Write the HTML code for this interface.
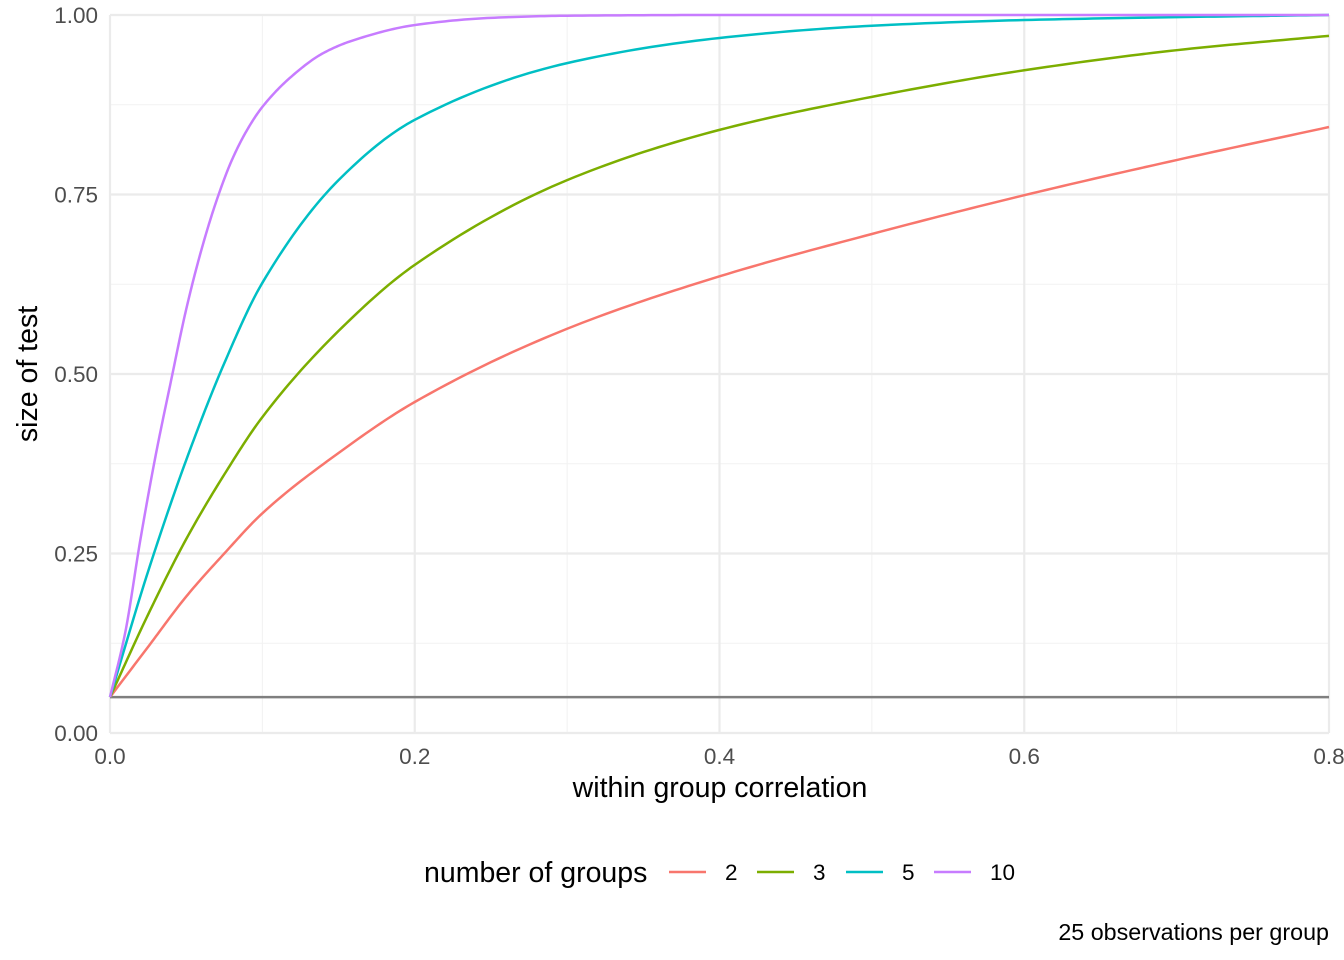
<!DOCTYPE html>
<html><head><meta charset="utf-8"><style>
body{margin:0;background:#fff;}
svg{font-family:"Liberation Sans",sans-serif;display:block}
</style></head><body>
<svg id="chart" width="1344" height="960">
<g id="grid"></g>
<g id="series"></g>
<g id="axes"></g>
<text x="37" y="374" transform="rotate(-90 37 374)" text-anchor="middle" font-size="28.5" fill="#000">size of test</text>
<text x="720" y="797" text-anchor="middle" font-size="28.5" fill="#000">within group correlation</text>
<g id="legend"></g>
<text x="1329" y="940" text-anchor="end" font-size="23.3" fill="#000">25 observations per group</text>
</svg>
<script>
const xTicks=[0,0.2,0.4,0.6,0.8];
const xTickLabels=["0.0","0.2","0.4","0.6","0.8"];
const yTicks=[0,0.25,0.5,0.75,1];
const yTickLabels=["0.00","0.25","0.50","0.75","1.00"];
const seriesNames=["2","3","5","10"];
const seriesColors=["#F8766D","#7CAE00","#00BFC4","#C77CFF"];
const refLevel=0.05;
const x2=[0,0.025,0.05,0.075,0.1,0.15,0.2,0.3,0.4,0.5,0.6,0.7,0.8];
const y2=[0.05,0.12,0.19,0.25,0.306,0.39,0.461,0.563,0.636,0.695,0.749,0.798,0.844];
const x3=[0,0.025,0.05,0.075,0.1,0.15,0.2,0.3,0.4,0.5,0.6,0.7,0.8];
const y3=[0.05,0.165,0.27,0.36,0.44,0.56,0.652,0.77,0.84,0.886,0.923,0.951,0.971];
const x5=[0,0.025,0.05,0.075,0.1,0.15,0.2,0.3,0.4,0.5,0.6,0.7,0.8];
const y5=[0.05,0.225,0.38,0.515,0.627,0.77,0.854,0.933,0.968,0.985,0.993,0.997,1.0];
const x10=[0,0.01,0.02,0.03,0.04,0.05,0.06,0.07,0.08,0.09,0.1,0.12,0.14,0.16,0.2,0.25,0.3,0.4,0.8];
const y10=[0.05,0.14,0.27,0.387,0.49,0.59,0.673,0.742,0.798,0.84,0.872,0.916,0.947,0.965,0.986,0.996,0.999,1.0,1.0];
const seriesX=[x2,x3,x5,x10], seriesY=[y2,y3,y5,y10];

const X0=110,X1=1329,Y0=733,Y1=15;
const sx=v=>X0+(v/0.8)*(X1-X0);
const sy=v=>Y0-v*(Y0-Y1);
const NS="http://www.w3.org/2000/svg";
function mk(tag,attrs,parent){const e=document.createElementNS(NS,tag);for(const k in attrs)e.setAttribute(k,attrs[k]);parent.appendChild(e);return e;}
const grid=document.getElementById('grid'),axes=document.getElementById('axes'),ser=document.getElementById('series'),leg=document.getElementById('legend');
for(let i=0;i<xTicks.length-1;i++){const v=(xTicks[i]+xTicks[i+1])/2;const l=mk('line',{x1:sx(v),x2:sx(v),y1:Y1,y2:Y0,stroke:'#f2f2f2','stroke-width':1.1},grid);
}
for(let i=0;i<yTicks.length-1;i++){const v=(yTicks[i]+yTicks[i+1])/2;const l=mk('line',{x1:X0,x2:X1,y1:sy(v),y2:sy(v),stroke:'#f2f2f2','stroke-width':1.1},grid);
}
xTicks.forEach((v,i)=>{const l=mk('line',{x1:sx(v),x2:sx(v),y1:Y1,y2:Y0,stroke:'#ebebeb','stroke-width':2.2},grid);

const t=mk('text',{x:sx(v),y:Y0+31,'text-anchor':'middle','font-size':22.5,fill:'#4d4d4d'},axes);t.textContent=xTickLabels[i];
});
yTicks.forEach((v,i)=>{const l=mk('line',{x1:X0,x2:X1,y1:sy(v),y2:sy(v),stroke:'#ebebeb','stroke-width':2.2},grid);

const t=mk('text',{x:X0-12,y:sy(v)+8,'text-anchor':'end','font-size':22.5,fill:'#4d4d4d'},axes);t.textContent=yTickLabels[i];
});
const ref=mk('line',{x1:X0,x2:X1,y1:sy(refLevel),y2:sy(refLevel),stroke:'#7f7f7f','stroke-width':2.5},ser);

// monotone cubic (Fritsch-Carlson) in data space, sampled densely
function path(xs,ys){const n=xs.length,d=[],m=new Array(n);
for(let i=0;i<n-1;i++)d.push((ys[i+1]-ys[i])/(xs[i+1]-xs[i]));
m[0]=d[0];m[n-1]=d[n-2];
for(let i=1;i<n-1;i++){if(d[i-1]*d[i]<=0)m[i]=0;else{const h0=xs[i]-xs[i-1],h1=xs[i+1]-xs[i];const w1=2*h1+h0,w2=h1+2*h0;m[i]=(w1+w2)/(w1/d[i-1]+w2/d[i]);}}
let s=`M${sx(xs[0])},${sy(ys[0])}`;
for(let i=0;i<n-1;i++){const h=xs[i+1]-xs[i];for(let k=1;k<=20;k++){const t=k/20,t2=t*t,t3=t2*t;
const y=(2*t3-3*t2+1)*ys[i]+(t3-2*t2+t)*h*m[i]+(-2*t3+3*t2)*ys[i+1]+(t3-t2)*h*m[i+1];
s+=` L${sx(xs[i]+t*h).toFixed(2)},${Math.max(Y1,sy(y)).toFixed(2)}`;}}
return s;}
seriesNames.forEach((n,i)=>{const p=mk('path',{d:path(seriesX[i],seriesY[i]),fill:'none',stroke:seriesColors[i],'stroke-width':2.5,'stroke-linejoin':'round'},ser);
});
const lt=mk('text',{x:424,y:882,'font-size':28.5,fill:'#000'},leg);lt.textContent='number of groups';

const lx=[669,757,846,934];
seriesNames.forEach((n,i)=>{const g=mk('g',{},leg);

mk('line',{x1:lx[i],x2:lx[i]+37,y1:872,y2:872,stroke:seriesColors[i],'stroke-width':2.5},g);
const t=mk('text',{x:lx[i]+56,y:880,'font-size':22.5,fill:'#000'},g);t.textContent=n;});
</script>
</body></html>
